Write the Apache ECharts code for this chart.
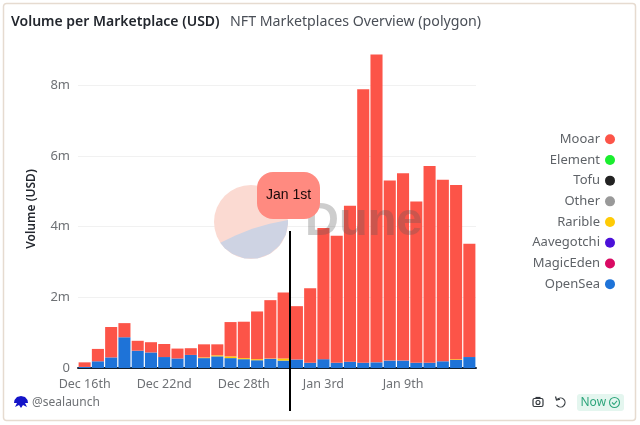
<!DOCTYPE html>
<html>
<head>
<meta charset="utf-8">
<style>html,body{margin:0;padding:0;background:#fff}#c{width:640px;height:425px}</style>
<script src="https://cdn.jsdelivr.net/npm/echarts@6/dist/echarts.min.js"></script>
</head>
<body>
<div id="c"></div>
<script>
const days = ["Dec 16th","Dec 17th","Dec 18th","Dec 19th","Dec 20th","Dec 21st","Dec 22nd","Dec 23rd","Dec 24th","Dec 25th","Dec 26th","Dec 27th","Dec 28th","Dec 29th","Dec 30th","Dec 31st","Jan 1st","Jan 2nd","Jan 3rd","Jan 4th","Jan 5th","Jan 6th","Jan 7th","Jan 8th","Jan 9th","Jan 10th","Jan 11th","Jan 12th","Jan 13th","Jan 14th"];
const openSea = [0.03,0.19,0.30,0.87,0.49,0.44,0.31,0.27,0.37,0.28,0.33,0.28,0.25,0.22,0.26,0.21,0.24,0.15,0.25,0.15,0.18,0.15,0.16,0.21,0.21,0.15,0.15,0.19,0.23,0.31];
const rarible = [0,0,0,0,0,0,0,0,0,0.02,0.03,0.05,0.03,0.03,0.01,0.06,0,0,0,0,0,0,0,0,0,0,0,0,0.02,0];
const mooar = [0.13,0.35,0.86,0.40,0.28,0.29,0.37,0.28,0.19,0.37,0.31,0.97,1.03,1.35,1.65,1.87,1.51,2.11,3.71,3.59,4.41,7.74,8.71,5.10,5.30,4.56,5.57,5.14,4.93,3.21];
const magicEden = [], aavegotchi = [], other = [], tofu = [], element = [];
const legendOrder = ["Mooar","Element","Tofu","Other","Rarible","Aavegotchi","MagicEden","OpenSea"];
const FONT = '"Noto Sans", sans-serif';

function bar(name, data, color) {
  return {name, type:'bar', stack:'v', data, barWidth:'91%', itemStyle:{color}, emphasis:{disabled:true}, animation:false};
}

const chart = echarts.init(document.getElementById('c'), null, {renderer:'canvas'});
chart.setOption({
  animation:false,
  backgroundColor:'#fff',
  textStyle:{fontFamily:FONT},
  title:[
    {text:'Volume per Marketplace (USD)', left:6, top:10, textStyle:{fontFamily:FONT,fontSize:14,fontWeight:600,color:'#23272e'}},
    {text:'NFT Marketplaces Overview (polygon)', left:225, top:10, textStyle:{fontFamily:FONT,fontSize:14.2,fontWeight:400,color:'#4a4f57'}}
  ],
  grid:{left:78, right:164, top:50, bottom:57},
  legend:{
    orient:'vertical', right:20, top:126, align:'right', icon:'circle',
    itemWidth:10, itemHeight:10, itemGap:4.2, data:legendOrder,
    selectedMode:false,
    textStyle:{fontFamily:FONT,fontSize:13,color:'#5f6368',lineHeight:16.5}
  },
  xAxis:{
    type:'category', data:days,
    axisLine:{lineStyle:{color:'#14202e',width:2}},
    axisTick:{show:false},
    axisLabel:{interval:5,color:'#6e7175',fontSize:12.5,margin:10,fontFamily:FONT}
  },
  yAxis:{
    type:'value', min:0, max:9, interval:2,
    name:'Volume (USD)', nameLocation:'middle', nameGap:40,
    nameTextStyle:{fontFamily:FONT,fontSize:12,fontWeight:600,color:'#23272e'},
    axisLine:{show:false}, axisTick:{show:false},
    axisLabel:{color:'#6e7175',fontSize:13,margin:8,showMaxLabel:false,fontFamily:FONT,formatter:v=>v===0?'0':v+'m'},
    splitLine:{showMinLine:false,showMaxLine:false,lineStyle:{color:'#f1f1f1',width:1}}
  },
  series:[
    bar('OpenSea',openSea,'#1e73d8'),
    bar('MagicEden',magicEden,'#d90a63'),
    bar('Aavegotchi',aavegotchi,'#4b11d9'),
    bar('Rarible',rarible,'#ffcb05'),
    bar('Other',other,'#999999'),
    bar('Tofu',tofu,'#222222'),
    bar('Element',element,'#1aee2f'),
    bar('Mooar',mooar,'#fc5448')
  ],
  graphic:[
    {type:'rect',silent:true,z:-1,shape:{x:3.5,y:3.5,width:632,height:417,r:3},style:{fill:'none',stroke:'#e6dbd0',lineWidth:1.5}},
    {type:'circle',silent:true,z:100,shape:{cx:251,cy:222,r:37},style:{fill:'#fbdad2'}},
    {type:'polygon',silent:true,z:101,shape:{points:[[220.3,242.7],[236,235.2],[252.2,228.7],[269.6,223.7],[288,220],[288,224],[285.8,234.7],[279.3,245.8],[269.5,254],[257.4,258.4],[244.6,258.4],[232.5,254],[224.8,248.2]]},style:{fill:'#ced3e3'}},
    {type:'text',silent:true,z:102,x:305,y:199,style:{text:'Dune',font:'bold 47px "Liberation Sans"',fill:'rgba(90,90,90,0.30)'}},
    {type:'rect',silent:true,z:110,shape:{x:257,y:172,width:63,height:47,r:16},style:{fill:'#ff8a80'}},
    {type:'text',silent:true,z:111,x:288.5,y:195.5,style:{text:'Jan 1st',font:'14px "Liberation Sans"',fill:'#1a0a0a',align:'center',verticalAlign:'middle'}},
    {type:'line',silent:true,z:111,shape:{x1:290,y1:231,x2:290,y2:411},style:{stroke:'#000',lineWidth:2}},
    {type:'polygon',silent:true,z:50,shape:{points:[[21,396],[25,397],[27.5,400],[28,403],[25,403],[27,407],[23,405],[21,408],[19,405],[15,407],[17,403],[14,403],[14.5,400],[17,397]]},style:{fill:'#1414c8'}},
    {type:'text',silent:true,z:50,x:32,y:402.5,style:{text:'@sealaunch',font:'12px "Noto Sans"',fill:'#6e7175',verticalAlign:'middle'}},
    {type:'rect',silent:true,z:50,shape:{x:533,y:398.5,width:10,height:8,r:1.5},style:{fill:'none',stroke:'#33383d',lineWidth:1.2}},
    {type:'circle',silent:true,z:50,shape:{cx:538,cy:402.5,r:2},style:{fill:'none',stroke:'#33383d',lineWidth:1.1}},
    {type:'line',silent:true,z:50,shape:{x1:535.5,y1:397.5,x2:540.5,y2:397.5},style:{stroke:'#33383d',lineWidth:1.2}},
    {type:'arc',silent:true,z:50,shape:{cx:560.5,cy:402.5,r:4.5,startAngle:-2.4,endAngle:2.6,clockwise:true},style:{fill:'none',stroke:'#33383d',lineWidth:1.2}},
    {type:'polyline',silent:true,z:50,shape:{points:[[555.5,396.5],[556.5,400],[560,399.2]]},style:{fill:'none',stroke:'#33383d',lineWidth:1.2}},
    {type:'rect',silent:true,z:50,shape:{x:577,y:394,width:47,height:17,r:3},style:{fill:'#e4f6ef'}},
    {type:'text',silent:true,z:51,x:580.5,y:402.5,style:{text:'Now',font:'12px "Noto Sans"',fill:'#2fa67c',verticalAlign:'middle'}},
    {type:'circle',silent:true,z:51,shape:{cx:614.5,cy:402.5,r:5},style:{fill:'none',stroke:'#2fa67c',lineWidth:1.1}},
    {type:'polyline',silent:true,z:51,shape:{points:[[612,402.5],[614,404.5],[617,400.8]]},style:{fill:'none',stroke:'#2fa67c',lineWidth:1.1}}
  ]
});
</script>
</body>
</html>
